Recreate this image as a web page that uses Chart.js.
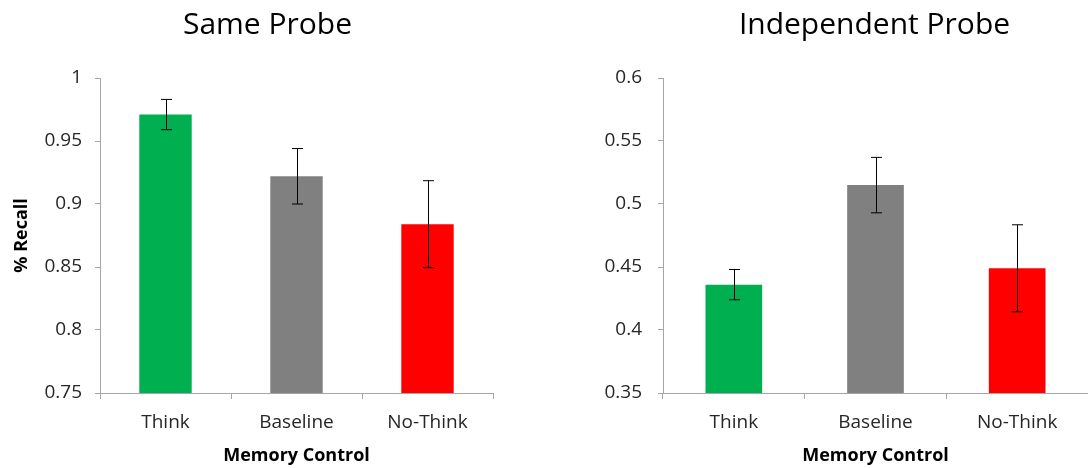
<!DOCTYPE html>
<html>
<head>
<meta charset="utf-8">
<script src="https://cdn.jsdelivr.net/npm/chart.js@4"></script>
<style>
  html, body { margin: 0; padding: 0; background: #fff; }
  .wrap { position: relative; width: 1088px; height: 468px; }
  .box { position: absolute; top: 0; height: 468px; }
  #leftBox { left: 0; width: 535px; }
  #rightBox { left: 544px; width: 544px; }
  .ttl { position: absolute; top: 8px; font: 30px/30px 'Open Sans', sans-serif; color: #000; text-align: center; white-space: nowrap; }
  #leftTitle { left: 67px; width: 401px; }
  #rightTitle { left: 674px; width: 401px; }
</style>
</head>
<body>
<div class="wrap">
  <div class="box" id="leftBox"><canvas id="sameChart"></canvas></div>
  <div class="box" id="rightBox"><canvas id="indepChart"></canvas></div>
  <div class="ttl" id="leftTitle">Same Probe</div>
  <div class="ttl" id="rightTitle">Independent Probe</div>
</div>
<script>
// data
const categories = ['Think', 'Baseline', 'No-Think'];
const barColors = ['#00B050', '#808080', '#FF0000'];

const sameProbe = [0.971, 0.922, 0.884];
const sameProbeErr = [0.012, 0.022, 0.0345];
const sameTicks = [0.75, 1, 0.05];

const indepProbe = [0.436, 0.515, 0.449];
const indepProbeErr = [0.012, 0.022, 0.0345];
const indepTicks = [0.35, 0.6, 0.05];

const FONT = "'Open Sans', sans-serif";
const AXIS = '#a6a6a6';

// draws the +/- error whiskers on top of each bar
const errorBars = {
  id: 'errorBars',
  afterDatasetsDraw(chart, args, opts) {
    const ctx = chart.ctx;
    const y = chart.scales.y;
    const meta = chart.getDatasetMeta(0);
    const vals = chart.data.datasets[0].data;
    ctx.save();
    ctx.strokeStyle = '#000';
    ctx.lineWidth = 1;
    meta.data.forEach((bar, i) => {
      const x = Math.round(bar.x) + 0.5;
      const top = y.getPixelForValue(vals[i] + opts.err[i]);
      const bot = y.getPixelForValue(vals[i] - opts.err[i]);
      ctx.beginPath();
      ctx.moveTo(x, top); ctx.lineTo(x, bot);
      ctx.moveTo(x - 5.5, top); ctx.lineTo(x + 5.5, top);
      ctx.moveTo(x - 5.5, bot); ctx.lineTo(x + 5.5, bot);
      ctx.stroke();
    });
    ctx.restore();
  }
};

function makeChart(id, values, errs, ticks, yWidth, tickPad, showYTitle, padRight) {
  return new Chart(document.getElementById(id), {
    type: 'bar',
    data: {
      labels: categories,
      datasets: [{
        data: values,
        backgroundColor: barColors,
        categoryPercentage: 1,
        barPercentage: 0.4
      }]
    },
    options: {
      responsive: true,
      maintainAspectRatio: false,
      animation: false,
      layout: { padding: { left: 0, right: padRight, top: 78, bottom: 0 } },
      plugins: {
        legend: { display: false },
        tooltip: { enabled: false },
        title: { display: false },
        errorBars: { err: errs }
      },
      scales: {
        x: {
          grid: { display: true, drawOnChartArea: false, offset: true, color: AXIS, tickLength: 6 },
          border: { color: AXIS },
          ticks: { color: '#262626', font: { family: FONT, size: 19 }, padding: 12 },
          title: {
            display: true,
            text: 'Memory Control',
            color: '#000',
            font: { family: FONT, size: 18, weight: 'bold' },
            padding: { top: 0, bottom: 1 }
          },
          afterFit(s) { s.height = 75; }
        },
        y: {
          min: ticks[0],
          max: ticks[1],
          grid: { display: true, drawOnChartArea: false, color: AXIS, tickLength: 5 },
          border: { color: AXIS },
          ticks: {
            stepSize: ticks[2],
            color: '#262626',
            font: { family: FONT, size: 19 },
            padding: tickPad,
            callback: v => String(+v.toFixed(2))
          },
          title: {
            display: showYTitle,
            text: '% Recall',
            color: '#000',
            font: { family: FONT, size: 18, weight: 'bold' },
            padding: { top: 11, bottom: 0 }
          },
          afterFit(s) { s.width = yWidth; }
        }
      }
    },
    plugins: [errorBars]
  });
}

makeChart('sameChart', sameProbe, sameProbeErr, sameTicks, 100, 13, true, 42);
makeChart('indepChart', indepProbe, indepProbeErr, indepTicks, 119, 16, false, 0);
</script>
</body>
</html>
